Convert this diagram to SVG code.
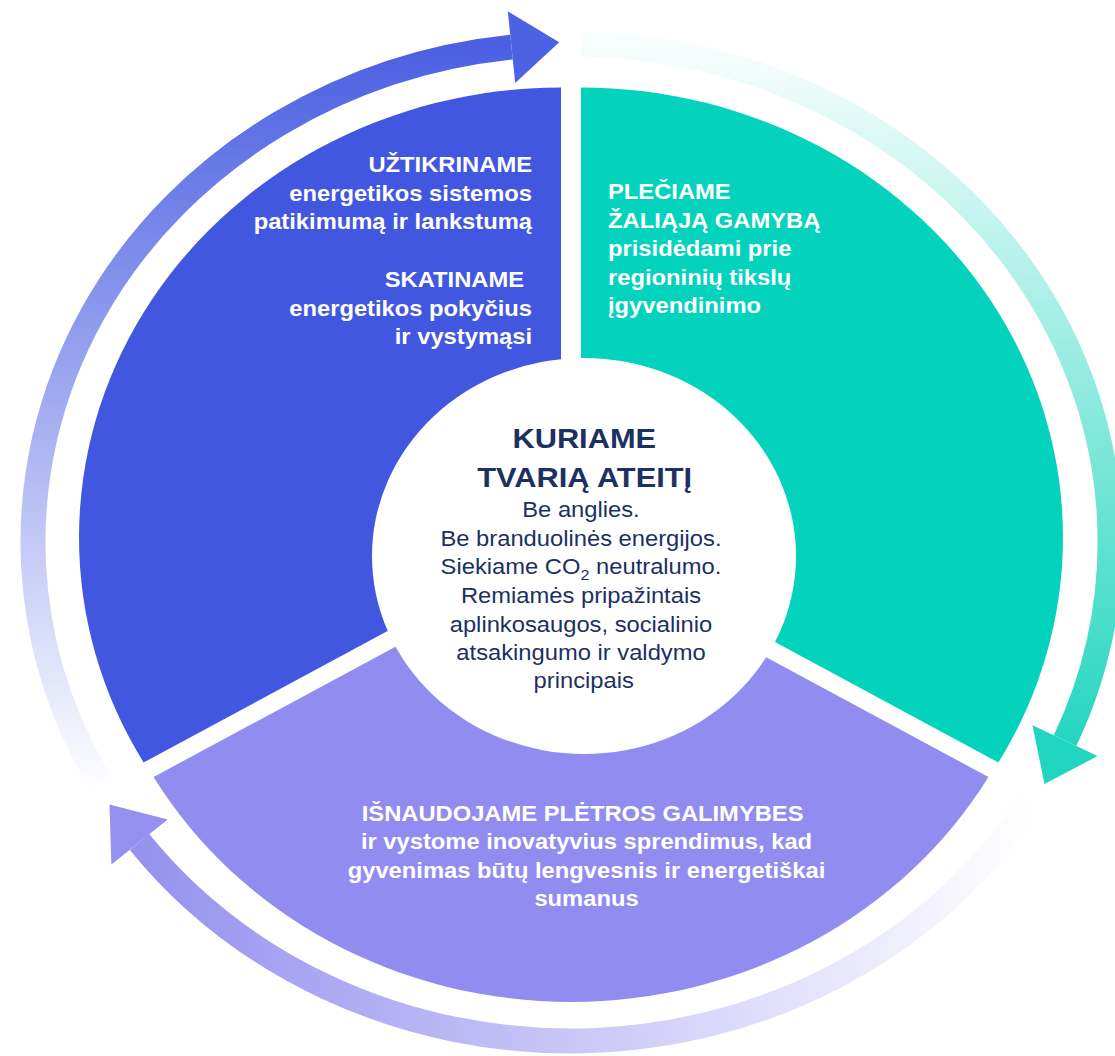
<svg xmlns="http://www.w3.org/2000/svg" width="1115" height="1056" viewBox="0 0 1115 1056">
  <style>
    .wt { font-family: "Liberation Sans", Arial, sans-serif; font-size: 22px; font-weight: bold; fill: #ffffff; }
    .ct { font-family: "Liberation Sans", Arial, sans-serif; font-size: 22px; fill: #1c3062; text-anchor: middle; }
    .ctb { font-family: "Liberation Sans", Arial, sans-serif; font-size: 28.5px; font-weight: bold; fill: #1c3062; text-anchor: middle; }
    .ring { fill: none; stroke-width: 25; stroke-linecap: butt; }
  </style>
  <defs>
    <linearGradient id="gBlue" gradientUnits="userSpaceOnUse" x1="0" y1="792" x2="0" y2="45">
      <stop offset="0" stop-color="#4b5fe2" stop-opacity="0"/>
      <stop offset="1" stop-color="#4b5fe2" stop-opacity="1"/>
    </linearGradient>
    <linearGradient id="gTeal" gradientUnits="userSpaceOnUse" x1="0" y1="44" x2="0" y2="765">
      <stop offset="0" stop-color="#1ed5be" stop-opacity="0.03"/>
      <stop offset="1" stop-color="#1ed5be" stop-opacity="1"/>
    </linearGradient>
    <linearGradient id="gPurple" gradientUnits="userSpaceOnUse" x1="1030" y1="0" x2="125" y2="0">
      <stop offset="0" stop-color="#958fef" stop-opacity="0"/>
      <stop offset="1" stop-color="#958fef" stop-opacity="1"/>
    </linearGradient>
  </defs>

  <rect x="0" y="0" width="1115" height="1056" fill="#ffffff"/>

  <g id="connectors">
    <g id="arrow-blue">
      <path class="ring" stroke="url(#gBlue)" d="M100.5,782.7 A538.5,497.5 0 0 1 511.5,47.1"/>
      <polygon fill="#4d61e3" points="507.8,11.3 559.2,42.2 515.2,82.9"/>
    </g>
    <g id="arrow-teal">
      <path class="ring" stroke="url(#gTeal)" d="M580.9,44.1 A538.5,497.5 0 0 1 1065,740.7"/>
      <polygon fill="#20d6bf" points="1032.5,725.3 1044.5,784.1 1097.5,756.1"/>
    </g>
    <g id="arrow-purple">
      <path class="ring" stroke="url(#gPurple)" d="M1029.7,802.9 A538.5,497.5 0 0 1 139.5,842"/>
      <polygon fill="#958fef" points="167.6,819.5 109.5,804.5 111.4,864.5"/>
    </g>
  </g>

  <g id="node-blue">
    <path fill="#4257e0" d="M561,537.5 L561,87.5 A482,450 0 0 0 143.6,762.5 Z"/>
  </g>
  <g id="node-teal">
    <path fill="#03d3bc" d="M581,537.5 L581,87.5 A482,450 0 0 1 998.4,762.5 Z"/>
  </g>
  <g id="node-purple">
    <path fill="#918cf0" d="M571,552 L153.6,777 A482,450 0 0 0 988.4,777 Z"/>
  </g>
  <g id="node-center">
    <ellipse cx="584" cy="556" rx="212" ry="198" fill="#ffffff"/>
  </g>

  <g id="label-blue" transform="matrix(1.08 0 0 1 532 0)" class="wt" text-anchor="end">
    <text x="0" y="172.5">UŽTIKRINAME</text>
    <text x="0" y="201">energetikos sistemos</text>
    <text x="0" y="229.5">patikimumą ir lankstumą</text>
    <text x="-7.4" y="287.5">SKATINAME</text>
    <text x="0" y="316">energetikos pokyčius</text>
    <text x="0" y="344.5">ir vystymąsi</text>
  </g>

  <g id="label-teal" transform="matrix(1.08 0 0 1 608 0)" class="wt" text-anchor="start">
    <text x="0" y="199">PLEČIAME</text>
    <text x="0" y="227.7">ŽALIĄJĄ GAMYBĄ</text>
    <text x="0" y="256">prisidėdami prie</text>
    <text x="0" y="285">regioninių tikslų</text>
    <text x="0" y="313.5">įgyvendinimo</text>
  </g>

  <g id="label-purple" transform="matrix(1.08 0 0 1 586.5 0)" class="wt" text-anchor="middle">
    <text x="-3.6" y="820.7">IŠNAUDOJAME PLĖTROS GALIMYBES</text>
    <text x="0" y="849.3">ir vystome inovatyvius sprendimus, kad</text>
    <text x="0" y="877.8">gyvenimas būtų lengvesnis ir energetiškai</text>
    <text x="0" y="906">sumanus</text>
  </g>

  <g id="label-center" transform="matrix(1.08 0 0 1 581 0)">
    <text class="ctb" x="3" y="447.7">KURIAME</text>
    <text class="ctb" x="3.4" y="486.7">TVARIĄ ATEITĮ</text>
    <text class="ct" x="0" y="516.7">Be anglies.</text>
    <text class="ct" x="0" y="545.7">Be branduolinės energijos.</text>
    <text class="ct" x="0" y="574.3">Siekiame CO<tspan dy="6" font-size="15">2</tspan><tspan dy="-6"> neutralumo.</tspan></text>
    <text class="ct" x="0" y="603.3">Remiamės pripažintais</text>
    <text class="ct" x="0" y="631.7">aplinkosaugos, socialinio</text>
    <text class="ct" x="0" y="660">atsakingumo ir valdymo</text>
    <text class="ct" x="2.5" y="688.3">principais</text>
  </g>
</svg>
